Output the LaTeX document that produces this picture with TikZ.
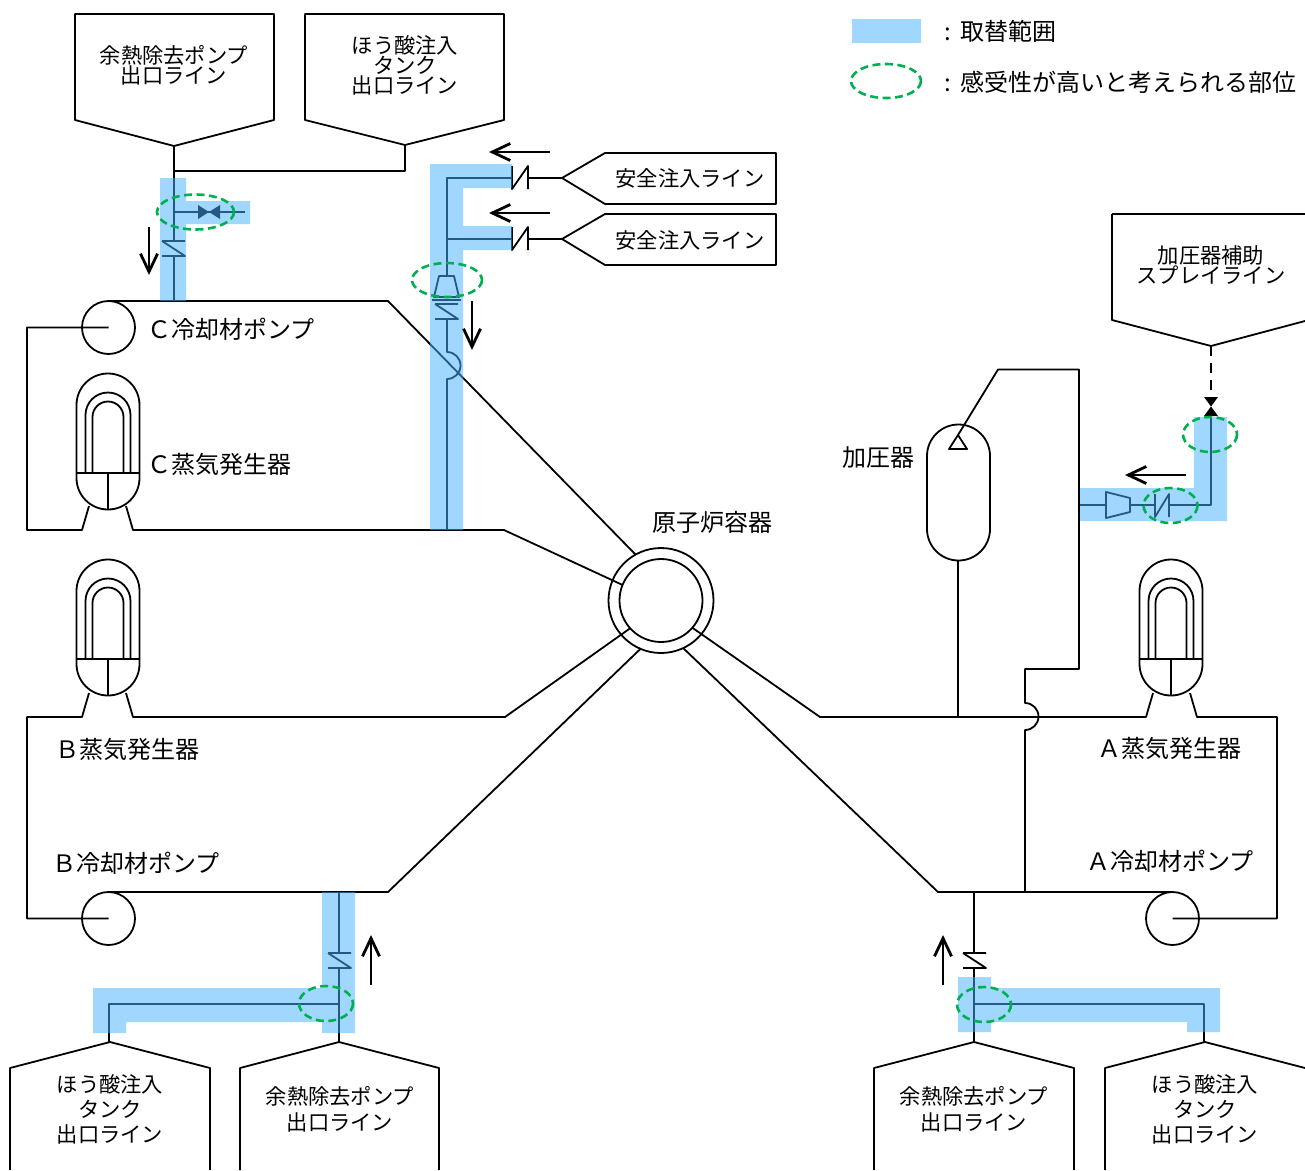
\documentclass[tikz,border=0pt]{standalone}
\usepackage{fontspec}
\setmainfont{Noto Sans CJK JP}
\usetikzlibrary{arrows.meta}
\definecolor{scopeblue}{RGB}{69,176,255}
\definecolor{suspgreen}{RGB}{0,176,80}
\tikzset{
	x=1pt, y=-1pt,
	pipe/.style={black, line width=1.8pt, line join=round},
	vesselnode/.style={circle, draw, pipe, inner sep=0pt, outer sep=0pt},
	replaced/.style={fill=scopeblue, fill opacity=0.51, draw=none},
	suspect/.style={draw=suspgreen, line width=2.6pt, dash pattern=on 8pt off 4.5pt},
	flow/.style={black, line width=2.8pt, -{Straight Barb[length=18pt, width=17pt, line width=2.8pt]}},
	boxlabel/.style={align=center, inner sep=0pt, font=\fontsize{21.3}{#1}\selectfont},
	biglabel/.style={anchor=west, inner sep=0pt, font=\fontsize{24}{26}\selectfont},
	sgpic/.pic={
		\draw[pipe] (-31.5,0) -- (-31.5,-68) arc[start angle=180, end angle=360, radius=31.5] -- (31.5,5)
			arc[start angle=0, end angle=180, radius=31.5] -- cycle;
		\draw[pipe] (-31.5,0) -- (31.5,0) (0,0) -- (0,36.5);
		\draw[pipe] (-22.5,0) -- (-22.5,-58) arc[start angle=180, end angle=360, radius=22.5] -- (22.5,0);
		\draw[pipe] (-15.5,0) -- (-15.5,-56) arc[start angle=180, end angle=360, radius=15.5] -- (15.5,0);
	}
}
\begin{document}
\begin{tikzpicture}
	\useasboundingbox (0,0) rectangle (1305,1170);
	% vessel, pumps
	\node[vesselnode, minimum size=105pt] (rv) at (661,600.5) {};
	\node[vesselnode, minimum size=83pt] (rvin) at (661,600.5) {};
	\node[vesselnode, minimum size=53pt] (pumpC) at (108.5,327.5) {};
	\node[vesselnode, minimum size=53pt] (pumpB) at (108.5,918.5) {};
	\node[vesselnode, minimum size=53pt] (pumpA) at (1172.5,918.5) {};
	% steam generators
	\pic at (108,473) {sgpic};
	\pic at (108,659) {sgpic};
	\pic at (1171,659) {sgpic};
	% loop C
	\draw[pipe] (pumpC.center) -- (27,327.5) -- (27,530) -- (82,530) -- (89,506);
	\draw[pipe] (126,506) -- (133,530) -- (504,530) -- (rvin.158);
	\draw[pipe] (pumpC.north) -- (388,301) -- (rv.119);
	% loop B
	\draw[pipe] (pumpB.center) -- (27,918.5) -- (27,717) -- (82,717) -- (89,693);
	\draw[pipe] (126,693) -- (133,717) -- (505,717) -- (rvin.222);
	\draw[pipe] (pumpB.north) -- (388,892) -- (rv.247);
	% loop A
	\draw[pipe] (pumpA.center) -- (1277,918.5) -- (1277,717) -- (1197,717) -- (1190,693);
	\draw[pipe] (1153,693) -- (1146,717) -- (820,717) -- (rvin.-41);
	\draw[pipe] (pumpA.north) -- (938,892) -- (rv.-65);
	% pressurizer
	\draw[pipe] (927,456) arc[start angle=180, end angle=360, radius=31.5] -- (990,529) arc[start angle=0, end angle=180, radius=31.5] -- cycle;
	\draw[pipe] (958,560.5) -- (958,717);
	\draw[pipe] (958,435) -- (949,449) -- (967,449) -- cycle;
	\draw[pipe] (958,435) -- (998,369.5) -- (1079,369.5) -- (1079,669) -- (1025,669) -- (1025,703)
		arc[start angle=-90, end angle=90, radius=13.5] -- (1025,892);
	% spray line
	\draw[pipe] (1112,214) -- (1305,214) (1112,214) -- (1112,320) -- (1211,346) -- (1305,321);
	\draw[pipe, line width=2.3pt, dash pattern=on 10pt off 7pt] (1211,346) -- (1211,397);
	\fill (1204,397) -- (1218,397) -- (1204,416) -- (1218,416) -- cycle;
	\draw[pipe] (1211,416) -- (1211,505) -- (1169,505) (1155,505) -- (1130,505) (1106,505) -- (1079,505);
	\draw[pipe] (1155,494) -- (1155,517) -- (1169,494) -- (1169,517);
	\draw[pipe] (1106,492) -- (1130,498) -- (1130,512) -- (1106,518) -- cycle;
	% safety injection lines
	\draw[pipe] (562,178) -- (605,153) -- (776,153) -- (776,204) -- (605,204) -- cycle;
	\draw[pipe] (562,239) -- (605,214) -- (776,214) -- (776,265) -- (605,265) -- cycle;
	\draw[pipe] (562,178) -- (528,178) (512,178) -- (447,178) -- (447,276);
	\draw[pipe] (562,239) -- (528,239) (512,239) -- (447,239);
	\draw[pipe] (512,166) -- (512,189) -- (528,166) -- (528,189);
	\draw[pipe] (512,227) -- (512,250) -- (528,227) -- (528,250);
	\draw[pipe] (439,276) -- (454,276) -- (459,297) -- (434,297) -- cycle;
	\draw[pipe] (432,300) -- (461,300);
	\draw[pipe] (435,304) -- (458,304) (435,304) -- (458,319) -- (435,319);
	\draw[pipe] (447,319) -- (447,352) arc[start angle=-90, end angle=90, radius=13.5] -- (447,530);
	% top left boxes
	\draw[pipe] (75,14) -- (274,14) -- (274,120) -- (174,146) -- (75,120) -- cycle;
	\draw[pipe] (305,14) -- (504,14) -- (504,120) -- (405,145) -- (305,120) -- cycle;
	\draw[pipe] (174,146) -- (174,241) (174,256) -- (174,301);
	\draw[pipe] (405,145) -- (405,171) -- (174,171);
	\draw[pipe] (174,212) -- (245,212);
	\fill (198,205) -- (220,219) -- (220,205) -- (198,219) -- cycle;
	\draw[pipe] (162,241) -- (185,241) (162,241) -- (185,256) -- (162,256);
	% bottom B
	\draw[pipe] (10,1170) -- (10,1068) -- (110,1042) -- (210,1068) -- (210,1170);
	\draw[pipe] (240,1170) -- (240,1068) -- (339,1042) -- (439,1068) -- (439,1170);
	\draw[pipe] (339,892) -- (339,953) (339,968) -- (339,1042);
	\draw[pipe] (328,953) -- (351,953) (328,953) -- (351,968) -- (328,968);
	\draw[pipe] (339,1004) -- (109,1004) -- (109,1042);
	% bottom A
	\draw[pipe] (874,1170) -- (874,1068) -- (974,1042) -- (1074,1068) -- (1074,1170);
	\draw[pipe] (1105,1170) -- (1105,1068) -- (1205,1042) -- (1305,1068);
	\draw[pipe] (974,892) -- (974,953) (974,968) -- (974,1042);
	\draw[pipe] (963,953) -- (986,953) (963,953) -- (986,968) -- (963,968);
	\draw[pipe] (974,1004) -- (1204,1004) -- (1204,1042);
	% replaced range
	\fill[replaced] (160,178) -- (186,178) -- (186,201) -- (250,201) -- (250,224) -- (186,224) -- (186,301) -- (160,301) -- cycle;
	\fill[replaced] (430,164) -- (512,164) -- (512,188) -- (463,188) -- (463,226) -- (512,226) -- (512,250) -- (463,250) -- (463,530) -- (430,530) -- cycle;
	\fill[replaced] (1080,488) -- (1194,488) -- (1194,417) -- (1227,417) -- (1227,521) -- (1080,521) -- cycle;
	\fill[replaced] (322,892) -- (355,892) -- (355,1033) -- (322,1033) -- (322,1022) -- (126,1022) -- (126,1033) -- (93,1033) -- (93,988) -- (322,988) -- cycle;
	\fill[replaced] (958,977) -- (991,977) -- (991,988) -- (1220,988) -- (1220,1032) -- (1187,1032) -- (1187,1022) -- (991,1022) -- (991,1032) -- (958,1032) -- cycle;
	% suspect parts
	\draw[suspect] (195.5,212) ellipse[x radius=38.5, y radius=17.5];
	\draw[suspect] (447,280) ellipse[x radius=35, y radius=17];
	\draw[suspect] (1210,434.5) ellipse[x radius=27, y radius=17.5];
	\draw[suspect] (1170.5,505.5) ellipse[x radius=27, y radius=17.5];
	\draw[suspect] (326,1003.5) ellipse[x radius=27, y radius=17.5];
	\draw[suspect] (984,1004.5) ellipse[x radius=27, y radius=17.5];
	% flow arrows
	\draw[flow] (149,227) -- (149,275);
	\draw[flow] (472,301) -- (472,350);
	\draw[flow] (550,152) -- (489,152);
	\draw[flow] (550,213) -- (489,213);
	\draw[flow] (1186,475) -- (1125,475);
	\draw[flow] (371,985) -- (371,935);
	\draw[flow] (943,985) -- (943,935);
	% legend
	\fill[replaced] (852,19) rectangle (921,43);
	\draw[suspect] (886,81) ellipse[x radius=35, y radius=17];
	\node[biglabel] (legendA) at (944,31) {:\hspace{10pt}取替範囲};
	\node[biglabel] (legendB) at (944,82) {:\hspace{10pt}感受性が高いと考えられる部位};
	% labels
	\node[boxlabel=20] (rhrC) at (174,65) {余熱除去ポンプ\\出口ライン};
	\node[boxlabel=20] (biC) at (405,65.5) {ほう酸注入\\タンク\\出口ライン};
	\node[boxlabel=20] (siA) at (690,178) {安全注入ライン};
	\node[boxlabel=20] (siB) at (690,240) {安全注入ライン};
	\node[boxlabel=18] (sprayA) at (1211,265) {加圧器補助\\スプレイライン};
	\node[boxlabel=25] (biB) at (110,1109) {ほう酸注入\\タンク\\出口ライン};
	\node[boxlabel=26] (rhrB) at (340,1109) {余熱除去ポンプ\\出口ライン};
	\node[boxlabel=26] (rhrA) at (974,1109) {余熱除去ポンプ\\出口ライン};
	\node[boxlabel=25] (biA) at (1205,1109) {ほう酸注入\\タンク\\出口ライン};
	\node[biglabel] (pumpClabel) at (147,329) {Ｃ冷却材ポンプ};
	\node[biglabel] (sgClabel) at (147,464) {Ｃ蒸気発生器};
	\node[biglabel] (sgBlabel) at (55,749) {Ｂ蒸気発生器};
	\node[biglabel] (pumpBlabel) at (52,863) {Ｂ冷却材ポンプ};
	\node[biglabel] (sgAlabel) at (1097,748) {Ａ蒸気発生器};
	\node[biglabel] (pumpAlabel) at (1086,861) {Ａ冷却材ポンプ};
	\node[biglabel] (rvlabel) at (652,522) {原子炉容器};
	\node[biglabel] (przlabel) at (842,458) {加圧器};
\end{tikzpicture}
\end{document}
